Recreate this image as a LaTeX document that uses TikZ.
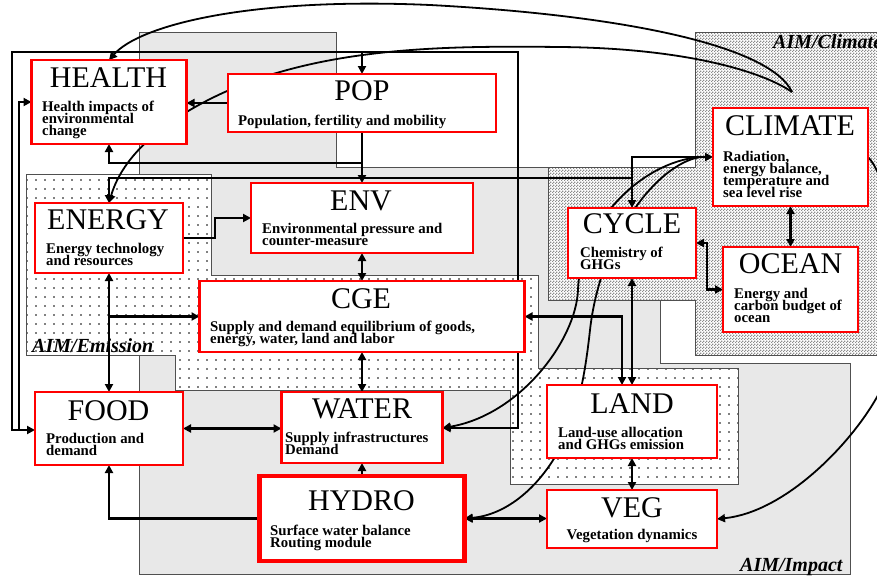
\documentclass[tikz,border=0pt]{standalone}
\usepackage{fontspec}
\setmainfont{Liberation Serif}
\usetikzlibrary{arrows.meta,patterns}
\pgfdeclarelayer{back}
\pgfdeclarelayer{mid}
\pgfsetlayers{back,mid,main}
\pgfdeclarepatternformonly{sparsedots}{\pgfqpoint{-1pt}{-1pt}}{\pgfqpoint{1pt}{1pt}}{\pgfqpoint{9pt}{9pt}}{\pgfpathcircle{\pgfqpoint{0pt}{0pt}}{0.8pt}\pgfusepath{fill}}
\pgfdeclarepatternformonly{finecheck}{\pgfqpoint{0pt}{0pt}}{\pgfqpoint{3pt}{3pt}}{\pgfqpoint{3pt}{3pt}}{\pgfpathrectangle{\pgfqpoint{0pt}{0pt}}{\pgfqpoint{1.5pt}{1.5pt}}\pgfpathrectangle{\pgfqpoint{1.5pt}{1.5pt}}{\pgfqpoint{1.5pt}{1.5pt}}\pgfusepath{fill}}
\definecolor{impc}{HTML}{E8E8E8}
\definecolor{regc}{HTML}{505050}
\newcommand\mysub[1]{\vtop{\lineskiplimit=-100pt\baselineskip=12pt\let\\\cr\halign{##\hfil\cr#1\crcr}}}
\begin{document}
\begin{tikzpicture}[x=1pt,y=-1pt,
  box/.style={draw=red, line width=2.5pt, fill=white, rectangle, inner sep=0pt, outer sep=0pt},
  ttl/.style={anchor=base, inner sep=0pt, font=\fontsize{30}{30}\selectfont},
  sub/.style={anchor=base west, inner sep=0pt, font=\bfseries\fontsize{14.8}{12}\selectfont},
  rlab/.style={anchor=base west, inner sep=0pt, font=\bfseries\itshape\fontsize{20}{20}\selectfont},
  regb/.style={draw=regc, line width=0.8pt},
  lnk/.style={line width=2.8pt},
  crv/.style={line width=1.8pt},
  tipe/.style={-{Triangle[length=8pt,width=8pt]}},
  tipb/.style={{Triangle[length=8pt,width=8pt]}-{Triangle[length=8pt,width=8pt]}}]
\useasboundingbox (0,0) rectangle (877,576);

% ---------- regions ----------
\begin{pgfonlayer}{back}
\fill[white] (0,0) rectangle (877,576);
% AIM/Impact
\fill[impc] (139,32) -- (336,32) -- (336,167) -- (548,167) -- (548,300) -- (660,300) -- (660,363) -- (850,363) -- (850,574) -- (139,574) -- cycle;
\draw[regb] (139,32) -- (336,32) -- (336,167) -- (548,167) -- (548,300) -- (660,300) -- (660,363) -- (850,363) -- (850,574) -- (139,574) -- cycle;
% AIM/Climate
\fill[white] (695,32) -- (882,32) -- (882,355) -- (695,355) -- (695,300) -- (548,300) -- (548,167) -- (695,167) -- cycle;
\fill[pattern=finecheck, pattern color=gray!90] (695,32) -- (882,32) -- (882,355) -- (695,355) -- (695,300) -- (548,300) -- (548,167) -- (695,167) -- cycle;
\draw[regb] (695,32) -- (882,32) -- (882,355) -- (695,355) -- (695,300) -- (548,300) -- (548,167) -- (695,167) -- cycle;
% AIM/Emission
\fill[white] (26,174) -- (211,174) -- (211,275) -- (538,275) -- (538,368) -- (738,368) -- (738,484) -- (510,484) -- (510,390) -- (175,390) -- (175,355) -- (26,355) -- cycle;
\fill[pattern=sparsedots, pattern color=black] (26,174) -- (211,174) -- (211,275) -- (538,275) -- (538,368) -- (738,368) -- (738,484) -- (510,484) -- (510,390) -- (175,390) -- (175,355) -- (26,355) -- cycle;
\draw[regb] (26,174) -- (211,174) -- (211,275) -- (538,275) -- (538,368) -- (738,368) -- (738,484) -- (510,484) -- (510,390) -- (175,390) -- (175,355) -- (26,355) -- cycle;
\end{pgfonlayer}

% ---------- boxes ----------
\node[box, minimum width=155pt, minimum height=84pt] (health) at (109,102) {};
\node[box, minimum width=268pt, minimum height=58pt] (pop) at (362,103) {};
\node[box, minimum width=222pt, minimum height=70pt] (env) at (362,218) {};
\node[box, minimum width=148pt, minimum height=70pt] (energy) at (109,238) {};
\node[box, minimum width=325pt, minimum height=71pt] (cge) at (362,316.5) {};
\node[box, minimum width=128pt, minimum height=70pt] (cycle) at (632,243) {};
\node[box, minimum width=155pt, minimum height=98pt] (climate) at (790.5,157) {};
\node[box, minimum width=135pt, minimum height=85pt] (ocean) at (790.5,289.5) {};
\node[box, minimum width=148pt, minimum height=73pt] (food) at (109,428.5) {};
\node[box, minimum width=161pt, minimum height=71pt] (water) at (362,427.5) {};
\node[box, line width=4.5pt, minimum width=205pt, minimum height=85pt] (hydro) at (362,518.5) {};
\node[box, minimum width=170pt, minimum height=73pt] (land) at (632,421.5) {};
\node[box, minimum width=170pt, minimum height=58pt] (veg) at (632,519) {};

% ---------- texts ----------
\node[ttl] (healthT) at (108.5,87) {HEALTH};
\node[sub] (healthS) at (42,111) {\mysub{Health impacts of\\environmental\\change}};
\node[ttl] (popT) at (362,100) {POP};
\node[sub] (popS) at (238,125) {Population, fertility and mobility};
\node[ttl] (envT) at (361,210) {ENV};
\node[sub] (envS) at (262,233) {\mysub{Environmental pressure and\\counter-measure}};
\node[ttl] (energyT) at (108,229) {ENERGY};
\node[sub] (energyS) at (46,253) {\mysub{Energy technology\\and resources}};
\node[ttl] (cgeT) at (361,308) {CGE};
\node[sub] (cgeS) at (210,331) {\mysub{Supply and demand equilibrium of goods,\\energy, water, land and labor}};
\node[ttl] (cycleT) at (632,233) {CYCLE};
\node[sub] (cycleS) at (580,257) {\mysub{Chemistry of\\GHGs}};
\node[ttl] (climateT) at (790,135) {CLIMATE};
\node[sub] (climateS) at (723,161) {\mysub{Radiation,\\energy balance,\\temperature and\\sea level rise}};
\node[ttl] (oceanT) at (790.5,273) {OCEAN};
\node[sub] (oceanS) at (734,298) {\mysub{Energy and\\carbon budget of\\ocean}};
\node[ttl] (foodT) at (108.5,420) {FOOD};
\node[sub] (foodS) at (46,443) {\mysub{Production and\\demand}};
\node[ttl] (waterT) at (362,418) {WATER};
\node[sub] (waterS) at (285,442) {\mysub{Supply infrastructures\\Demand}};
\node[ttl] (hydroT) at (361.5,510) {HYDRO};
\node[sub] (hydroS) at (270,535) {\mysub{Surface water balance\\Routing module}};
\node[ttl] (landT) at (632,413) {LAND};
\node[sub] (landS) at (558,437) {\mysub{Land-use allocation\\and GHGs emission}};
\node[ttl] (vegT) at (632,517) {VEG};
\node[sub, anchor=base] (vegS) at (632,539) {Vegetation dynamics};

\node[rlab] (climLab) at (773,48) {AIM/Climate};
\node[rlab] (emLab) at (32,352) {AIM/Emission};
\node[rlab] (impLab) at (740,571) {AIM/Impact};

% ---------- connectors ----------
\begin{pgfonlayer}{mid}
\coordinate (tl) at (12,52);
\coordinate (tr) at (518,52);
\coordinate (bl) at (12,430);
\coordinate (br) at (518,428);
\coordinate (il) at (19,430);
\coordinate (it) at (19,102);
\coordinate (hj) at (362,163);
\coordinate (cj) at (632,178);
\coordinate (cu) at (632,157);
\coordinate (ee) at (215,238);
\coordinate (co) at (707,243);
\coordinate (cl) at (622,316.5);
\coordinate (cs) at (792,92);
\coordinate (ca) at (700,157);

\draw[lnk,tipb] (food.west |- bl) -- (bl) -- (tl) -- (tr) -- (br) -- (water.east |- br);
\draw[lnk,tipe] (il) -- (it) -- (health.west |- it);
\draw[lnk,tipe] (pop.north |- tl) -- (pop.north);
\draw[lnk,tipe] (pop.west) -- (health.east |- pop.west);
\draw[lnk,tipe] (pop.south) -- (env.north);
\draw[lnk,tipe] (hj) -| (health.south);
\draw[lnk,tipe] (cj) -| (energy.north);
\draw[lnk,tipb] (cycle.north) -- (cu) -- (climate.west);
\draw[lnk,tipe] (energy.east) -- (ee) |- (env.west);
\draw[lnk,tipb] (env.south) -- (cge.north);
\draw[lnk,tipb] (energy.south) -- (food.north);
\draw[lnk,tipe] (energy.south |- cge.west) -- (cge.west);
\draw[lnk,tipb] (cge.south) -- (water.north);
\draw[lnk,tipb] (food.east) -- (water.west |- food.east);
\draw[lnk,tipe] (hydro.north) -- (water.south);
\draw[lnk,tipe] (hydro.west) -| (food.south);
\draw[lnk,tipb] (hydro.east) -- (veg.west |- hydro.east);
\draw[lnk,tipb] (land.south) -- (veg.north);
\draw[lnk,tipb] (climate.south) -- (ocean.north);
\draw[lnk,tipb] (cycle.east) -- (co) |- (ocean.west);
\draw[lnk,tipb] (cge.east) -- (cl) -- (cl |- land.north);
\draw[lnk,tipb] (cycle.south) -- (land.north);

% curves
\draw[crv,tipe] (cs) .. controls (770,45) and (620,15) .. (430,5) .. controls (250,-3) and (140,25) .. (health.north);
\draw[crv,tipe] (cs) .. controls (760,70) and (680,48) .. (560,47) .. controls (470,46) and (370,46) .. (280,72) .. controls (225,87) and (130,130) .. (energy.north);
\draw[crv,tipe] (ca) .. controls (640,162) and (580,225) .. (578,290) .. controls (576,340) and (520,415) .. (water.east |- br);
\draw[crv,tipe] (ca) .. controls (655,165) and (600,240) .. (590,330) .. controls (584,385) and (575,425) .. (555,457) .. controls (535,490) and (505,515) .. (hydro.east);
\draw[crv,tipe] (climate.east) .. controls (900,190) and (905,350) .. (877,397) .. controls (850,445) and (785,512) .. (veg.east);
\end{pgfonlayer}
\end{tikzpicture}
\end{document}
